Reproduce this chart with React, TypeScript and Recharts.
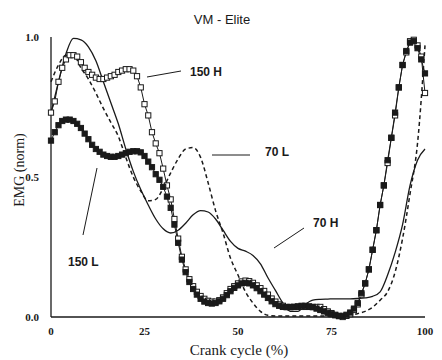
import React from "react";
import { Customized, Line, LineChart, XAxis, YAxis } from "recharts";

// Crank cycle positions (%) sampled for the marker series (every 1 %)
const CYCLE_FINE = [
  0, 1, 2, 3, 4, 5, 6, 7, 8, 9, 10, 11, 12, 13, 14, 15, 16, 17, 18, 19, 20,
  21, 22, 23, 24, 25, 26, 27, 28, 29, 30, 31, 32, 33, 34, 35, 36, 37, 38, 39,
  40, 41, 42, 43, 44, 45, 46, 47, 48, 49, 50, 51, 52, 53, 54, 55, 56, 57, 58,
  59, 60, 61, 62, 63, 64, 65, 66, 67, 68, 69, 70, 71, 72, 73, 74, 75, 76, 77,
  78, 79, 80, 81, 82, 83, 84, 85, 86, 87, 88, 89, 90, 91, 92, 93, 94, 95, 96,
  97, 98, 99, 100,
];

// Crank cycle positions (%) for the plain line series (every 2 %)
const CYCLE_COARSE = [
  0, 2, 4, 6, 8, 10, 12, 14, 16, 18, 20, 22, 24, 26, 28, 30, 32, 34, 36, 38,
  40, 42, 44, 46, 48, 50, 52, 54, 56, 58, 60, 62, 64, 66, 68, 70, 72, 74, 76,
  78, 80, 82, 84, 86, 88, 90, 92, 94, 96, 98, 100,
];

// 150 H: open squares
const EMG_150H = [
  0.73, 0.77, 0.84, 0.89, 0.92, 0.935, 0.935, 0.93, 0.91, 0.89, 0.875, 0.865,
  0.855, 0.85, 0.85, 0.855, 0.86, 0.865, 0.875, 0.88, 0.885, 0.885, 0.88, 0.86,
  0.82, 0.76, 0.72, 0.66, 0.62, 0.585, 0.53, 0.47, 0.42, 0.35, 0.28, 0.215,
  0.17, 0.135, 0.11, 0.09, 0.075, 0.065, 0.058, 0.055, 0.055, 0.06, 0.07, 0.085,
  0.1, 0.11, 0.12, 0.127, 0.13, 0.128, 0.122, 0.113, 0.103, 0.093, 0.08, 0.066,
  0.055, 0.045, 0.04, 0.036, 0.036, 0.036, 0.036, 0.036, 0.036, 0.036, 0.036,
  0.036, 0.036, 0.028, 0.02, 0.014, 0.008, 0.003, 0.0, 0.004, 0.01, 0.025,
  0.045, 0.08, 0.12, 0.17, 0.24, 0.31, 0.4, 0.47, 0.55, 0.64, 0.72, 0.82, 0.9,
  0.945, 0.985, 0.99, 0.97, 0.93, 0.8,
];

// 150 L: filled squares
const EMG_150L = [
  0.63, 0.66, 0.685, 0.7, 0.705, 0.705, 0.7, 0.69, 0.675, 0.655, 0.635, 0.615,
  0.6, 0.59, 0.58, 0.575, 0.572, 0.572, 0.575, 0.58, 0.585, 0.59, 0.592, 0.592,
  0.588, 0.575, 0.555, 0.535, 0.51, 0.49, 0.465, 0.43, 0.39, 0.33, 0.265, 0.205,
  0.16, 0.125, 0.1, 0.08, 0.065, 0.055, 0.05, 0.048, 0.05, 0.056, 0.065, 0.078,
  0.092, 0.104, 0.113, 0.12, 0.122, 0.12, 0.113, 0.103, 0.092, 0.08, 0.068,
  0.056, 0.046, 0.04, 0.036, 0.035, 0.035, 0.036, 0.038, 0.04, 0.04, 0.038,
  0.035, 0.03, 0.025, 0.02, 0.015, 0.01, 0.006, 0.004, 0.004, 0.008, 0.016,
  0.03, 0.05, 0.085, 0.12, 0.17, 0.24, 0.31, 0.4, 0.47, 0.56, 0.64, 0.73, 0.82,
  0.9, 0.95, 0.98, 0.985, 0.96, 0.92, 0.87,
];

// 70 H: solid line
const EMG_70H = [
  0.73, 0.84, 0.94, 0.995, 0.99, 0.965, 0.915, 0.84, 0.765, 0.69, 0.6, 0.52,
  0.455, 0.4, 0.35, 0.315, 0.3, 0.31, 0.335, 0.365, 0.38, 0.375, 0.35, 0.31,
  0.27, 0.245, 0.235, 0.22, 0.19, 0.14, 0.095, 0.05, 0.02, 0.02, 0.045, 0.06,
  0.063, 0.064, 0.065, 0.065, 0.065, 0.066, 0.068, 0.074, 0.09, 0.15, 0.23,
  0.33, 0.47, 0.56, 0.6,
];

// 70 L: dashed line
const EMG_70L = [
  0.84, 0.9, 0.935, 0.935, 0.89, 0.85, 0.8, 0.745, 0.695, 0.645, 0.57, 0.5,
  0.45, 0.415, 0.42, 0.46, 0.515, 0.565, 0.6, 0.605, 0.57, 0.48, 0.38, 0.3,
  0.21, 0.15, 0.09, 0.05, 0.02, 0.006, 0.004, 0.004, 0.004, 0.004, 0.004,
  0.004, 0.004, 0.004, 0.004, 0.004, 0.006, 0.012, 0.02, 0.035, 0.06, 0.09,
  0.16, 0.28, 0.44, 0.62, 0.97,
];

const X_TICKS = [0, 25, 50, 75, 100];
const Y_TICKS = [0, 0.5, 1];

const toPoints = (xs: number[], ys: number[]) =>
  xs.map((x, i) => ({ x, y: ys[i] }));

const INK = "#1a1a1a";
const SERIF = "'Liberation Serif', 'DejaVu Serif', serif";
const SANS = "'Liberation Sans', Arial, sans-serif";

function squareDot(filled: boolean) {
  return (props: any) => {
    const { cx, cy, index } = props;
    if (cx == null || cy == null) return <g key={index} />;
    return (
      <rect
        key={index}
        x={cx - 2.6}
        y={cy - 2.6}
        width={5.2}
        height={5.2}
        fill={filled ? INK : "#ffffff"}
        stroke={INK}
        strokeWidth={1}
      />
    );
  };
}

function Annotations(): React.ReactElement {
  const label = { fill: INK, fontSize: 12, fontWeight: 700, fontFamily: SANS };
  return (
    <g>
      <text x={222} y={24} textAnchor="middle" fill={INK} fontSize={13} fontFamily={SANS}>
        VM - Elite
      </text>
      <line x1={147} y1={77} x2={181} y2={71} stroke={INK} strokeWidth={1} />
      <text x={190} y={76} {...label}>150 H</text>
      <line x1={212} y1={155} x2={250} y2={155} stroke={INK} strokeWidth={1} />
      <text x={265} y={156} {...label}>70 L</text>
      <line x1={274} y1={248} x2={304} y2={228} stroke={INK} strokeWidth={1} />
      <text x={313} y={227} {...label}>70 H</text>
      <line x1={97} y1={168} x2={83} y2={235} stroke={INK} strokeWidth={1} />
      <text x={68} y={266} {...label}>150 L</text>
      <text
        x={24}
        y={170}
        transform="rotate(-90 24 170)"
        textAnchor="middle"
        fill={INK}
        fontSize={14}
        fontFamily={SERIF}
      >
        EMG (norm)
      </text>
      <text x={239} y={355} textAnchor="middle" fill={INK} fontSize={15} fontFamily={SERIF}>
        Crank cycle (%)
      </text>
    </g>
  );
}

export default function App(): React.ReactElement {
  const tick = { fill: INK, fontSize: 11, fontFamily: SERIF, fontWeight: 700 };
  return (
    <div style={{ position: "absolute", left: 0, top: 0, background: "#ffffff" }}>
      <LineChart
        width={442}
        height={360}
        margin={{ top: 37, right: 17, bottom: 0, left: 0 }}
        style={{ backgroundColor: "#ffffff" }}
      >
        <XAxis
          type="number"
          dataKey="x"
          domain={[0, 100]}
          ticks={X_TICKS}
          height={43}
          axisLine={{ stroke: INK, strokeWidth: 1.3 }}
          tickLine={false}
          tick={tick}
          tickMargin={4}
        />
        <YAxis
          type="number"
          dataKey="y"
          domain={[0, 1]}
          ticks={Y_TICKS}
          width={51}
          axisLine={{ stroke: INK, strokeWidth: 1.3 }}
          tickLine={false}
          tick={tick}
          tickMargin={6}
          tickFormatter={(v: number) => v.toFixed(1)}
        />
        <Line
          data={toPoints(CYCLE_FINE, EMG_150H)}
          dataKey="y"
          type="linear"
          stroke={INK}
          strokeWidth={1}
          dot={squareDot(false)}
          isAnimationActive={false}
        />
        <Line
          data={toPoints(CYCLE_FINE, EMG_150L)}
          dataKey="y"
          type="linear"
          stroke={INK}
          strokeWidth={1}
          dot={squareDot(true)}
          isAnimationActive={false}
        />
        <Line
          data={toPoints(CYCLE_COARSE, EMG_70H)}
          dataKey="y"
          type="monotone"
          stroke={INK}
          strokeWidth={1.3}
          dot={false}
          isAnimationActive={false}
        />
        <Line
          data={toPoints(CYCLE_COARSE, EMG_70L)}
          dataKey="y"
          type="monotone"
          stroke={INK}
          strokeWidth={1.5}
          strokeDasharray="4 3"
          dot={false}
          isAnimationActive={false}
        />
        <Customized component={<Annotations />} />
      </LineChart>
    </div>
  );
}
